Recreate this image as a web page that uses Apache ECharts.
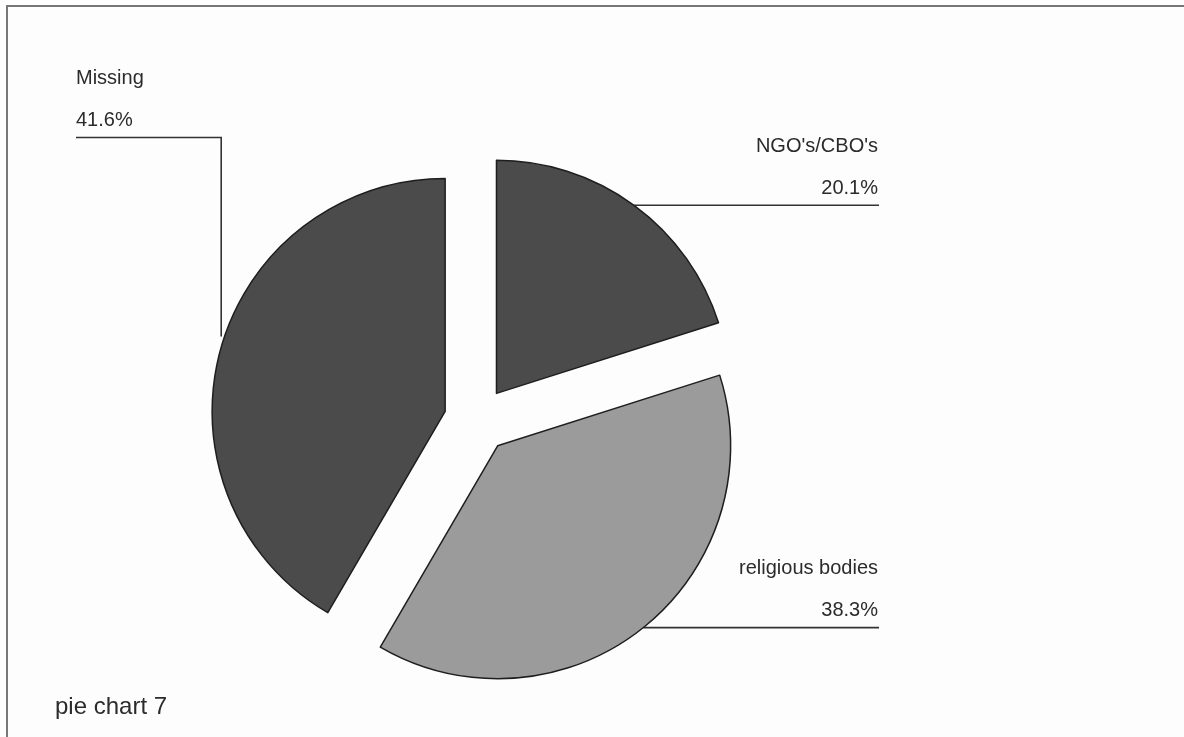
<!DOCTYPE html>
<html>
<head>
<meta charset="utf-8">
<script src="https://cdn.jsdelivr.net/npm/echarts@6/dist/echarts.min.js"></script>
<style>
  html, body { margin: 0; padding: 0; background: #fdfdfd; }
  #chart { width: 1184px; height: 737px; }
</style>
</head>
<body>
<div id="chart"></div>
<script>
// data
const categories = ["NGO's/CBO's", "religious bodies", "Missing"];
const shares = [20.1, 38.3, 41.6];
const chartTitle = "pie chart 7";

// look
const sliceColors = ["#4b4b4b", "#9b9b9b", "#4b4b4b"];
const textColor = "#2b2b2b";
const font = "'Liberation Sans', Arial, sans-serif";
const base = [477, 420];
const explode = 33;
const radius = 233;

// each slice is pulled out along its own mid angle, so give each one a centre
const total = shares.reduce((s, v) => s + v, 0);
let acc = 0;
const centers = shares.map((v) => {
  const mid = ((acc + v / 2) / total) * 2 * Math.PI;
  acc += v;
  return [base[0] + explode * Math.sin(mid), base[1] - explode * Math.cos(mid)];
});

function labelLayout(params) {
  if (params.dataIndex !== params.seriesIndex || !params.labelLinePoints) return {};
  const [ex, ey] = params.labelLinePoints[0];
  if (ex < base[0]) {
    // left label: line goes straight up then out to the left
    const lineY = 137.5, left = 76;
    return {
      x: left, y: lineY + 4, align: "left", verticalAlign: "bottom",
      labelLinePoints: [[ex + 1, ey - 14], [ex + 1, lineY], [left, lineY]],
    };
  }
  const right = 879;
  return {
    x: right - 1, y: ey + 4, align: "right", verticalAlign: "bottom",
    labelLinePoints: [[ex, ey], [right, ey]],
  };
}

const chart = echarts.init(document.getElementById("chart"), null, { renderer: "canvas" });

const series = shares.map((_, si) => ({
  type: "pie",
  center: centers[si],
  radius: radius,
  startAngle: 90,
  clockwise: true,
  silent: true,
  animation: false,
  avoidLabelOverlap: false,
  emphasis: { disabled: true },
  labelLayout: labelLayout,
  data: categories.map((name, i) => {
    const own = i === si;
    return {
      name,
      value: shares[i],
      itemStyle: own
        ? { color: sliceColors[i], borderColor: "#1e1e1e", borderWidth: 1.5 }
        : { color: "transparent", borderWidth: 0 },
      label: own
        ? {
            show: true,
            position: "outside",
            formatter: "{b}\n{c}%",
            fontSize: 20,
            lineHeight: 42,
            fontFamily: font,
            color: textColor,
          }
        : { show: false },
      labelLine: own
        ? { show: true, length: 0, length2: 0, smooth: false, lineStyle: { color: "#333", width: 1.6 } }
        : { show: false },
    };
  }),
}));

chart.setOption({
  backgroundColor: "#fdfdfd",
  title: {
    text: chartTitle,
    left: 55,
    top: 693,
    padding: 0,
    textStyle: { fontSize: 24, lineHeight: 28, fontWeight: "normal", color: textColor, fontFamily: font },
  },
  graphic: [
    {
      type: "polyline",
      shape: { points: [[7, 737], [7, 6], [1184, 6]] },
      style: { stroke: "#777", lineWidth: 2, fill: null },
      silent: true,
    },
  ],
  series: series,
});
</script>
</body>
</html>
